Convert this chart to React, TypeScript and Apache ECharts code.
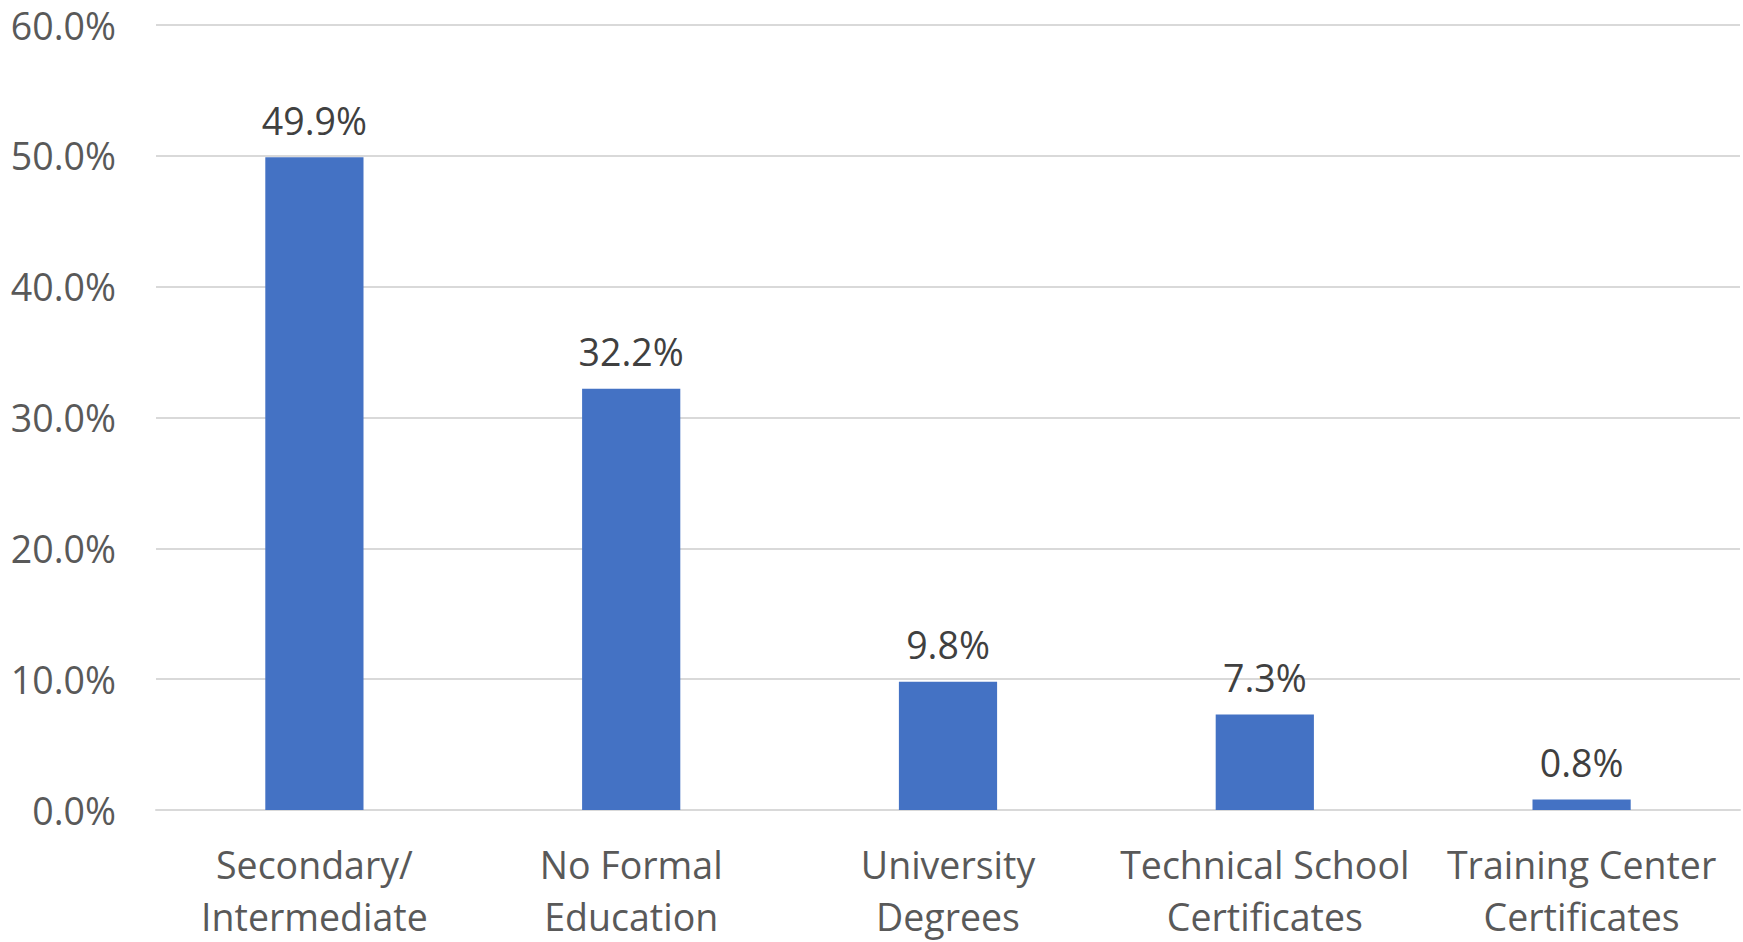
import React, { useEffect, useRef } from "react";
import * as echarts from "echarts";

const categories = [
  "Secondary/\nIntermediate",
  "No Formal\nEducation",
  "University\nDegrees",
  "Technical School\nCertificates",
  "Training Center\nCertificates",
];
const values = [49.9, 32.2, 9.8, 7.3, 0.8];
const yTicks = { min: 0, max: 60, interval: 10 };

export default function App() {
  const ref = useRef<HTMLDivElement>(null);
  useEffect(() => {
    if (!ref.current) return;
    const chart = echarts.init(ref.current, null, { renderer: "svg" });
    const font = "'Open Sans', 'Noto Sans', sans-serif";
    chart.setOption({
      animation: false,
      backgroundColor: "#ffffff",
      grid: { left: 156, right: 3, top: 25, bottom: 126, containLabel: false },
      xAxis: {
        type: "category",
        data: categories,
        axisLine: { show: true, lineStyle: { color: "#d9d9d9", width: 2 } },
        axisTick: { show: false },
        axisLabel: {
          color: "#595959",
          fontSize: 37.5,
          fontFamily: font,
          lineHeight: 52,
          margin: 28,
          interval: 0,
        },
      },
      yAxis: {
        type: "value",
        min: yTicks.min,
        max: yTicks.max,
        interval: yTicks.interval,
        axisLine: { show: false },
        axisTick: { show: false },
        splitLine: { lineStyle: { color: "#d9d9d9", width: 2 } },
        axisLabel: {
          color: "#595959",
          fontSize: 37.5,
          fontFamily: font,
          margin: 40,
          formatter: (v: number) => v.toFixed(1) + "%",
        },
      },
      series: [
        {
          type: "bar",
          data: values,
          barWidth: "31%",
          itemStyle: { color: "#4472c4" },
          label: {
            show: true,
            position: "top",
            distance: 18,
            color: "#404040",
            fontSize: 37.5,
            fontFamily: font,
            formatter: (p: any) => Number(p.value).toFixed(1) + "%",
          },
        },
      ],
    });
    return () => chart.dispose();
  }, []);
  return (
    <div
      ref={ref}
      style={{ position: "fixed", left: 0, top: 0, width: 1743, height: 942 }}
    />
  );
}
